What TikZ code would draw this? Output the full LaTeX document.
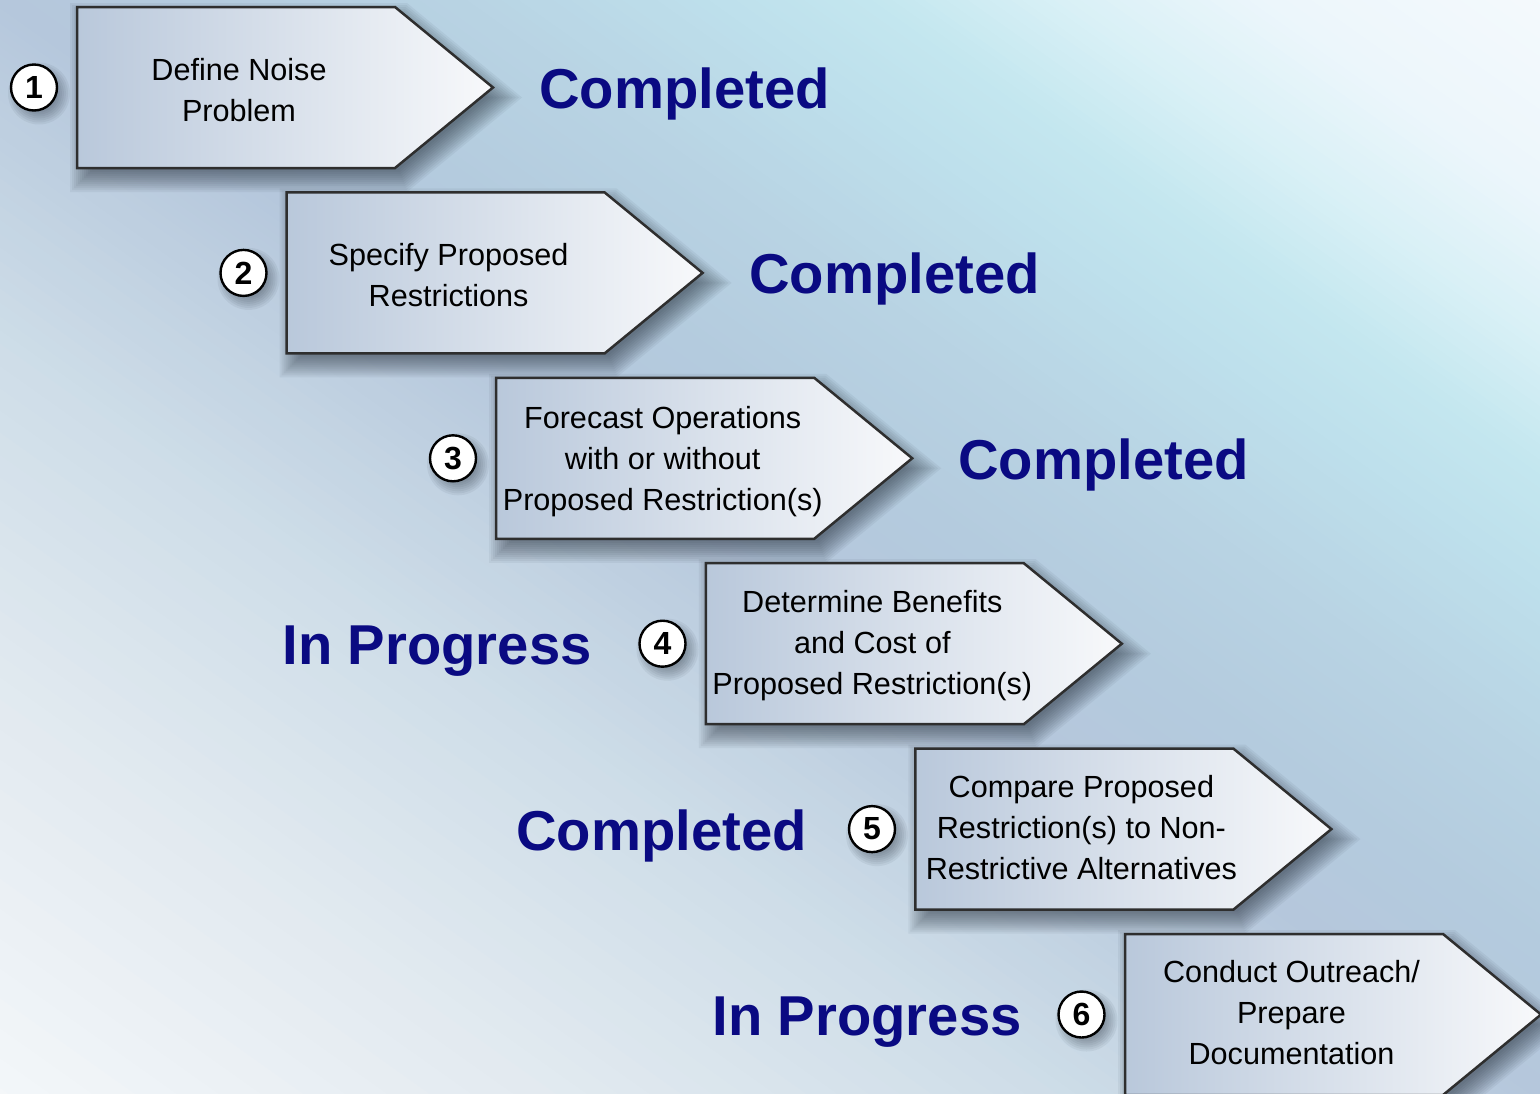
\documentclass[tikz,border=0pt]{standalone}
\usepackage{fontspec}
\setmainfont{Liberation Sans}

% background gradient stops (diagonal band)
\definecolor{bg0}{HTML}{F7F9FB}
\definecolor{bg1}{HTML}{E2EAF0}
\definecolor{bg2}{HTML}{CEDDE8}
\definecolor{bg3}{HTML}{BECFE0}
\definecolor{bg4}{HTML}{B5C7DC}
\definecolor{bg5}{HTML}{B4CBDE}
\definecolor{bg6}{HTML}{B8D3E3}
\definecolor{bg7}{HTML}{BEE0EC}
\definecolor{bg8}{HTML}{C4E7EF}
\definecolor{bg9}{HTML}{D8F0F6}
\definecolor{bg10}{HTML}{ECF6FB}
\definecolor{bg11}{HTML}{F8FBFD}
% stage boxes
\definecolor{boxL}{HTML}{B9C8DB}
\definecolor{boxR}{HTML}{F8F9FB}
\definecolor{boxline}{HTML}{2E2E2E}
\definecolor{shadowcol}{HTML}{1A2430}
\definecolor{statblue}{RGB}{10,10,130}

% soft shadow of a stage box: stacked, slightly grown copies
\newcommand\boxshadow[2]{%
  \foreach \r in {-8,-6,...,14} {
    \fill[shadowcol, fill opacity=0.055, shift={({#1+7},{#2+10})}]
      ({0-(\r)},{0-(\r)}) -- ({318+0.358*(\r)},{0-(\r)})
      -- ({416+1.575*(\r)},80.5) -- ({318+0.358*(\r)},{161+(\r)})
      -- ({0-(\r)},{161+(\r)}) -- cycle;
  }
}
% stage box: name, left x, top y, text offset x/y, text
\newcommand\stagebox[6]{%
  \boxshadow{#2}{#3}
  \path[boxshape] (#2,#3) -- ++(318,0) -- ++(98,80.5) -- ++(-98,80.5)
        -- ++(-318,0) -- cycle;
  \node[boxtext] (#1) at ({#2+#4},{#3+80.5+#5}) {#6};
}
% numbered disc with its shadow: name, x, y, number
\newcommand\stepnum[4]{%
  \foreach \r in {-6,-4,...,8} {
    \fill[shadowcol, fill opacity=0.06] ({#2+5},{#3+6}) circle ({23+(\r)});
  }
  \node[numcirc] (#1) at (#2,#3) {#4};
}

\begin{document}
\begin{tikzpicture}[x=0.5pt,y=-0.5pt,
  boxshape/.style={draw=boxline, line width=1.25pt, line join=miter,
    left color=boxL, right color=boxR},
  boxtext/.style={align=center, inner sep=0pt,
    font=\fontsize{15.3}{20.5}\selectfont},
  numcirc/.style={circle, draw=black, line width=1.2pt, fill=white,
    minimum size=23pt, inner sep=0pt,
    font=\fontsize{16}{16}\selectfont\bfseries},
  status/.style={inner sep=0pt, text=statblue,
    font=\fontsize{28.1}{33}\selectfont\bfseries}]

\useasboundingbox (0,0) rectangle (1540,1093);
\clip (0,0) rectangle (1540,1093);

% background: strips across the diagonal
\begin{scope}[shift={(770,546.5)}, rotate=54.63]
  \foreach \ta/\ca/\tb/\cb in {-960/bg0/-570/bg1, -570/bg1/-280/bg2,
      -280/bg2/-100/bg3, -100/bg3/0/bg4, 0/bg4/120/bg5, 120/bg5/260/bg6,
      260/bg6/420/bg7, 420/bg7/510/bg8, 510/bg8/610/bg9, 610/bg9/730/bg10,
      730/bg10/960/bg11} {
    \foreach \k in {0,...,15} {
      \pgfmathsetmacro\tlo{\ta+((\tb)-(\ta))*\k/16}
      \pgfmathsetmacro\tro{\ta+((\tb)-(\ta))*(\k+1)/16+1.5}
      \pgfmathsetmacro\mixp{100*(\k+0.5)/16}
      \fill[color=\cb!\mixp!\ca] (\tlo,-1000) rectangle (\tro,1000);
    }
  }
\end{scope}

% stages
\stagebox{s1}{77}{7}{162}{3}{Define Noise\\Problem}
\stagebox{s2}{286.6}{192.4}{162}{2.5}{Specify Proposed\\Restrictions}
\stagebox{s3}{496.2}{377.8}{166.5}{3}{Forecast Operations\\with or without\\Proposed Restriction(s)}
\stagebox{s4}{705.8}{563.2}{166.5}{2}{Determine Benefits\\and Cost of\\Proposed Restriction(s)}
\stagebox{s5}{915.4}{748.6}{166}{-1.5}{Compare Proposed\\Restriction(s) to Non-\\Restrictive Alternatives}
\stagebox{s6}{1125}{934}{166.5}{-1.5}{Conduct Outreach/\\Prepare\\Documentation}

% step numbers
\stepnum{n1}{34}{87.5}{1}
\stepnum{n2}{243.5}{272.9}{2}
\stepnum{n3}{453}{458.3}{3}
\stepnum{n4}{662.5}{643.7}{4}
\stepnum{n5}{872}{829.1}{5}
\stepnum{n6}{1081.5}{1014.5}{6}

% status labels
\node[status, anchor=base west] (st1) at (539,108) {Completed};
\node[status, anchor=base west] (st2) at (749,293.5) {Completed};
\node[status, anchor=base west] (st3) at (958,479) {Completed};
\node[status, anchor=base east] (st4) at (592,664.5) {In Progress};
\node[status, anchor=base east] (st5) at (807,850) {Completed};
\node[status, anchor=base east] (st6) at (1022,1035) {In Progress};
\end{tikzpicture}
\end{document}
